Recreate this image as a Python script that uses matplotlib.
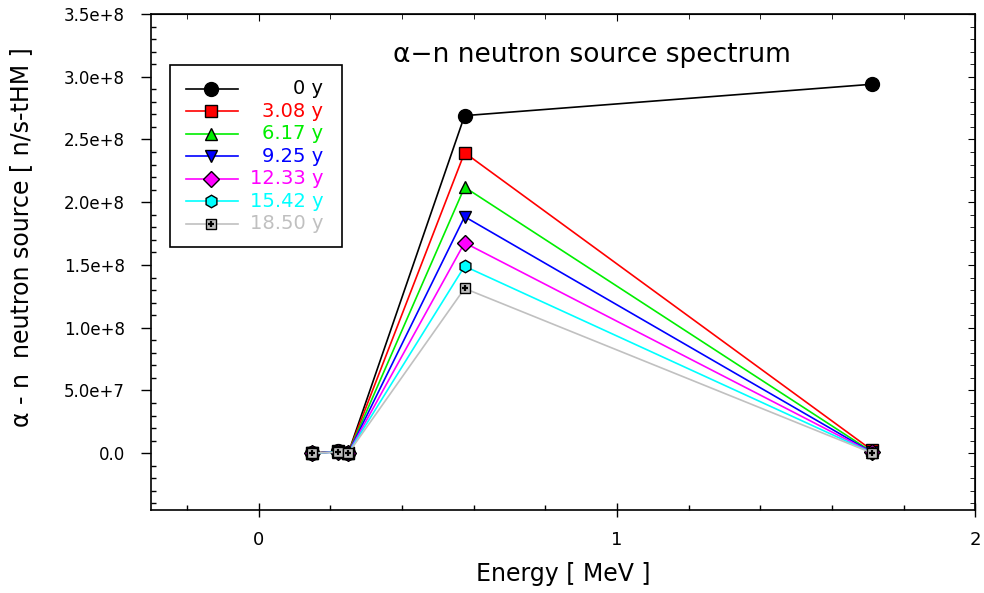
import matplotlib
matplotlib.use("Agg")
import matplotlib.pyplot as plt
from matplotlib.ticker import MultipleLocator, FuncFormatter
from matplotlib.patches import Rectangle

# energy bins [MeV]
energy = [0.150, 0.223, 0.251, 0.575, 1.711]

# alpha-n source per cooling time [n/s-tHM]
labels = ["0 y", "3.08 y", "6.17 y", "9.25 y", "12.33 y", "15.42 y", "18.50 y"]
src_0 = [0.0, 1.5e6, 0.5e6, 2.69e8, 2.94e8]
src_308 = [0.0, 1.4e6, 0.5e6, 2.395e8, 2.6e6]
src_617 = [0.0, 1.3e6, 0.4e6, 2.12e8, 1.2e6]
src_925 = [0.0, 1.2e6, 0.4e6, 1.885e8, 0.8e6]
src_1233 = [0.0, 1.1e6, 0.3e6, 1.677e8, 0.6e6]
src_1542 = [0.0, 1.0e6, 0.3e6, 1.49e8, 0.4e6]
src_1850 = [0.0, 0.9e6, 0.2e6, 1.313e8, 0.3e6]
series = [src_0, src_308, src_617, src_925, src_1233, src_1542, src_1850]

colors = ["black", "#ff0000", "#00ee00", "#0000ff", "#ff00ff", "#00ffff", "#c0c0c0"]
markers = ["o", "s", "^", "v", "D", "h", "s"]
msizes = [10, 8.5, 9, 9, 8, 9, 7.5]

fig = plt.figure(figsize=(9.84, 5.93), dpi=100)
ax = fig.add_axes([0.1535, 0.1405, 0.8376, 0.8359])

for i, ys in enumerate(series):
    ax.plot(energy, ys, color=colors[i], lw=1.2, zorder=2 + i)
    ax.plot(energy, ys, ls="none", marker=markers[i], ms=msizes[i],
            mfc=colors[i], mec="black", mew=1.0, zorder=2 + i)
    if i == 6:
        ax.plot(energy, ys, ls="none", marker="+", ms=5, mec="black", mew=1.6, zorder=2 + i)

ax.set_xlim(-0.3, 2.0)
ax.set_ylim(-4.5e7, 3.5e8)
ax.xaxis.set_major_locator(MultipleLocator(1))
ax.xaxis.set_minor_locator(MultipleLocator(0.2))
ax.yaxis.set_major_locator(MultipleLocator(5e7))
ax.yaxis.set_minor_locator(MultipleLocator(1e7))
ax.set_yticks([0, 5e7, 1e8, 1.5e8, 2e8, 2.5e8, 3e8, 3.5e8])


def sci(v, pos):
    if v == 0:
        return "0.0"
    e = int(f"{v:.1e}".split("e")[1])
    return f"{v / 10**e:.1f}e+{e}"


ax.yaxis.set_major_formatter(FuncFormatter(sci))
ax.tick_params(axis="x", which="major", direction="inout", length=10, width=1, pad=10, labelsize=13)
ax.tick_params(axis="y", which="major", direction="out", length=7, width=1, pad=12, labelsize=12)
ax.tick_params(which="minor", direction="in", length=3.5, width=1)
for s in ax.spines.values():
    s.set_linewidth(1.2)

# inward ticks on top and right
top = ax.secondary_xaxis("top")
top.xaxis.set_major_locator(MultipleLocator(1))
top.xaxis.set_minor_locator(MultipleLocator(0.2))
top.tick_params(which="major", direction="in", length=5, labeltop=False)
top.tick_params(which="minor", direction="in", length=3.5)
right = ax.secondary_yaxis("right")
right.yaxis.set_major_locator(MultipleLocator(5e7))
right.yaxis.set_minor_locator(MultipleLocator(1e7))
right.tick_params(which="major", direction="in", length=5, labelright=False)
right.tick_params(which="minor", direction="in", length=3.5)

ax.set_xlabel("Energy [ MeV ]", fontsize=17, labelpad=10)
ax.set_ylabel("\u03b1 - n  neutron source [ n/s-tHM ]", fontsize=17)
ax.yaxis.set_label_coords(-0.143, 0.55)
ax.text(0.535, 0.917, "\u03b1\u2212n neutron source spectrum", transform=ax.transAxes,
        ha="center", va="center", fontsize=19)

# legend box drawn by hand so the labels are right aligned
ax.add_patch(Rectangle((0.0225, 0.529), 0.2087, 0.369, transform=ax.transAxes,
                       fill=False, ec="black", lw=1.2, zorder=10))
for i, lab in enumerate(labels):
    y = 0.849 - i * 0.0453
    ax.plot([0.0425, 0.1056], [y, y], transform=ax.transAxes, color=colors[i], lw=1.2,
            clip_on=False, zorder=11)
    ax.plot([0.073], [y], transform=ax.transAxes, ls="none", marker=markers[i], ms=msizes[i],
            mfc=colors[i], mec="black", mew=1.0, clip_on=False, zorder=12)
    if i == 6:
        ax.plot([0.073], [y], transform=ax.transAxes, ls="none", marker="+", ms=5,
                mec="black", mew=1.6, clip_on=False, zorder=13)
    ax.text(0.209, y, lab, transform=ax.transAxes, ha="right", va="center",
            fontsize=14, color=colors[i], zorder=12)

fig.savefig("out.png", dpi=100)
